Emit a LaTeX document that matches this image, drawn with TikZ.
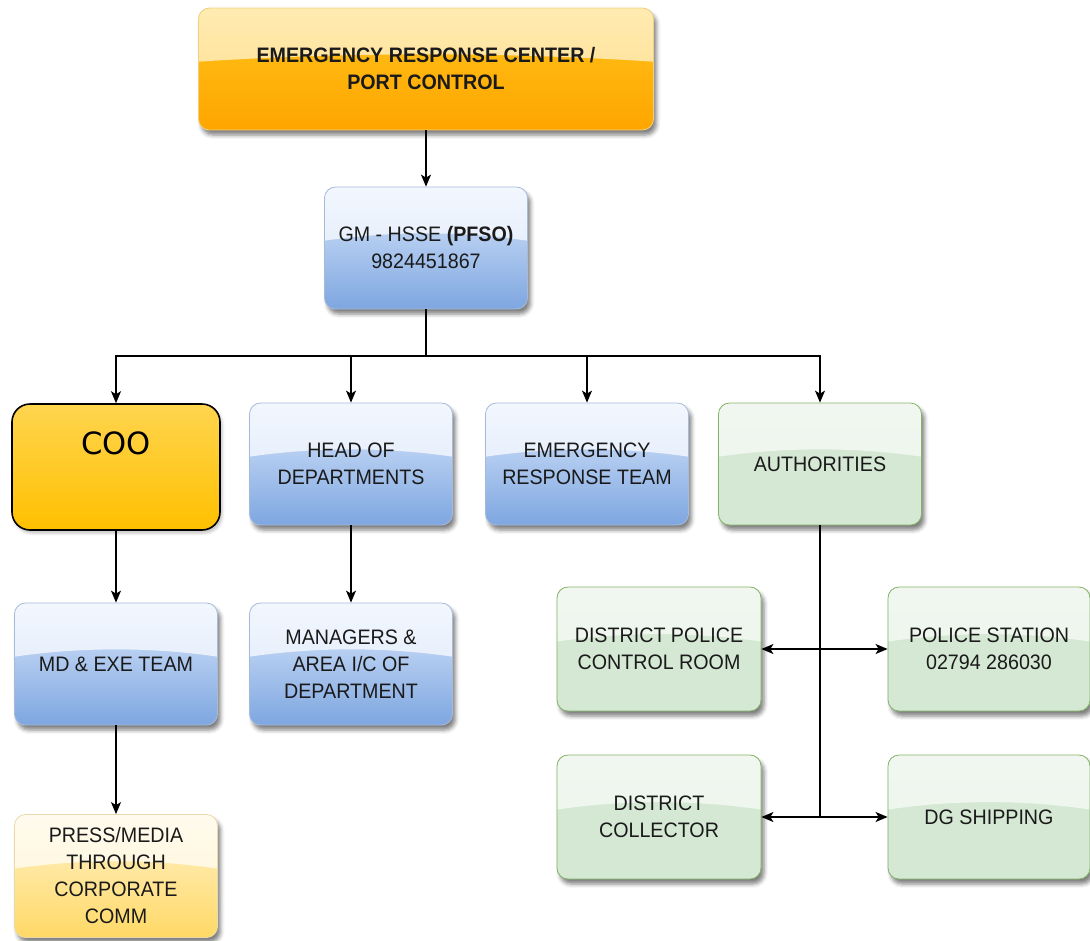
\documentclass[tikz,border=0pt]{standalone}
\usepackage{fontspec}
\newfontfamily\boxfamily{Liberation Sans}[FakeStretch=0.94]
\newfontfamily\coofamily{DejaVu Sans}
\usetikzlibrary{arrows.meta,calc,shadows.blur}

\definecolor{bluetop}{HTML}{DAE8FC}
\definecolor{bluebot}{HTML}{7EA6E0}
\definecolor{bluestroke}{HTML}{6C8EBF}
\definecolor{greenfill}{HTML}{D5E8D4}
\definecolor{greenstroke}{HTML}{82B366}
\definecolor{orangetop}{HTML}{FFC41A}
\definecolor{orangebot}{HTML}{FFA500}
\definecolor{orangestroke}{HTML}{E0A000}
\definecolor{yellowtop}{HTML}{FFF2CC}
\definecolor{yellowbot}{HTML}{FFD966}
\definecolor{yellowstroke}{HTML}{D6B656}
\definecolor{cootop}{HTML}{FFD54F}
\definecolor{coobot}{HTML}{FFC000}
\definecolor{textdark}{HTML}{1A1A1A}

\newcommand\boxtext{\boxfamily\fontsize{15.7}{20.25}\selectfont}
\newcommand\cootext{\coofamily\fontsize{23}{28}\selectfont}

% glossy highlight over the upper part of a box, bounded below by a soft arc
\newcommand\glasshl[2]{%
  \colorlet{hlA}{white!66!#1}%
  \colorlet{hlM}{#1!55!#2}%
  \colorlet{hlB}{white!52!hlM}%
  \path[sharp corners] let \p1 = (path picture bounding box.north west),
            \p2 = (path picture bounding box.south east) in
    [top color=hlA, bottom color=hlB, shading=axis]
    (\x1,\y1) -- (\x2,\y1) -- (\x2,{\y1+0.44*(\y2-\y1)})
    .. controls ({\x2-0.33*(\x2-\x1)},{\y1+0.36*(\y2-\y1)})
           and ({\x1+0.33*(\x2-\x1)},{\y1+0.36*(\y2-\y1)}) ..
    (\x1,{\y1+0.44*(\y2-\y1)}) -- cycle;}

\tikzset{
  glass/.style 2 args={rounded corners=8.25pt, line width=0.6pt,
    top color=#1, bottom color=#2,
    minimum width=152.25pt, minimum height=91.5pt, inner sep=0pt,
    align=center, font=\boxtext, text=textdark,
    blur shadow={shadow xshift=2.25pt, shadow yshift=-3.75pt, shadow blur radius=3pt, shadow opacity=50},
    path picture={\glasshl{#1}{#2}}},
  bluebox/.style={glass={bluetop}{bluebot}, draw=bluestroke!60},
  greenbox/.style={glass={greenfill}{greenfill}, draw=greenstroke},
  orangebox/.style={glass={orangetop}{orangebot}, draw=orangestroke!50},
  yellowbox/.style={glass={yellowtop}{yellowbot}, draw=yellowstroke!50},
  coobox/.style={rounded corners=13.5pt, draw=black, line width=1.2pt,
    top color=cootop, bottom color=coobot,
    minimum width=156pt, minimum height=94.5pt, inner sep=0pt,
    blur shadow={shadow xshift=1.5pt, shadow yshift=-2.25pt, shadow blur radius=2.25pt, shadow opacity=25}},
  cootxt/.style={font=\cootext, text=black, inner sep=0pt},
  conn/.style={line width=1.1pt, draw=black,
    -{Stealth[length=9pt, width=7.5pt, inset=2.25pt]}},
}

\begin{document}
\begin{tikzpicture}[x=0.75pt, y=-0.75pt]
\useasboundingbox (0,0) rectangle (1090,940);

% top of the chain
\node[orangebox, minimum width=341.25pt, minimum height=91.5pt] (erc) at (426,69)
  {\textbf{EMERGENCY RESPONSE CENTER /}\\\textbf{PORT CONTROL}};
\node[bluebox] (gm) at (426,248) {GM - HSSE \textbf{(PFSO)}\\9824451867};

% second level
\node[coobox] (coo) at (116,467) {};
\node[cootxt] (cootitle) at (116,443) {COO};
\node[bluebox] (hod) at (351,464) {HEAD OF\\DEPARTMENTS};
\node[bluebox] (ert) at (587,464) {EMERGENCY\\RESPONSE TEAM};
\node[greenbox] (auth) at (820,464) {AUTHORITIES};

% third level
\node[bluebox] (md) at (116,664) {MD \& EXE TEAM};
\node[bluebox] (mgr) at (351,664) {MANAGERS \&\\AREA I/C OF\\DEPARTMENT};
\node[yellowbox, minimum height=92.25pt] (press) at (116,876) {PRESS/MEDIA\\THROUGH\\CORPORATE\\COMM};

% authorities
\node[greenbox, minimum width=153pt, minimum height=93pt] (dpcr) at (659,649) {DISTRICT POLICE\\CONTROL ROOM};
\node[greenbox, minimum width=151.5pt, minimum height=93pt] (ps) at (989,649) {POLICE STATION\\02794 286030};
\node[greenbox, minimum width=153pt, minimum height=93pt] (dc) at (659,817) {DISTRICT\\COLLECTOR};
\node[greenbox, minimum width=151.5pt, minimum height=93pt] (dg) at (989,817) {DG SHIPPING};

% connectors
\coordinate (bus) at (426,356);
\draw[conn] (erc.south) -- (gm.north);
\draw[conn] (gm.south) -- (bus) -| (coo.north);
\draw[conn] (gm.south) -- (bus) -| (hod.north);
\draw[conn] (gm.south) -- (bus) -| (ert.north);
\draw[conn] (gm.south) -- (bus) -| (auth.north);
\draw[conn] (coo.south) -- (coo.south |- md.north);
\draw[conn] (md.south) -- (md.south |- press.north);
\draw[conn] (hod.south) -- (hod.south |- mgr.north);
\draw[conn] (auth.south) |- (dpcr.east);
\draw[conn] (auth.south) |- (ps.west);
\draw[conn] (auth.south) |- (dc.east);
\draw[conn] (auth.south) |- (dg.west);
\end{tikzpicture}
\end{document}
